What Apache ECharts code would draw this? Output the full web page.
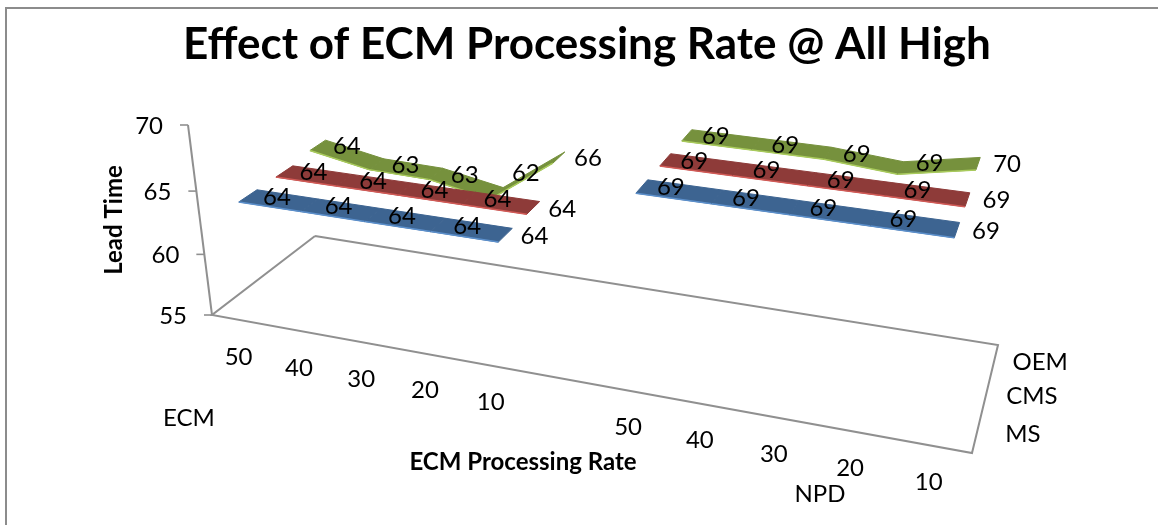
<!DOCTYPE html>
<html><head><meta charset="utf-8">
<style>html,body{margin:0;padding:0;background:#fff}#c{width:1158px;height:525px}</style>
<script src="https://cdn.jsdelivr.net/npm/echarts@6/dist/echarts.min.js"></script>
</head><body><div id="c"></div>
<script>
// ---- data ----
const categories = ['50','40','30','20','10','','50','40','30','20','10'];
const groupNames = ['ECM','NPD'];
const seriesNames = ['MS','CMS','OEM'];
const valuesMS  = [64,64,64,64,64,null,69,69,69,69,69];
const valuesCMS = [64,64,64,64,64,null,69,69,69,69,69];
const valuesOEM = [64.3,63.4,63.3,62.4,66,null,69,69,69,68.6,69.6];
const valueTicks = [55,60,65,70];

// ---- 3D view layout (not data) ----
const FLOOR = {fl:[212,315], fr:[972,453], br:[998,345], bl:[315,236]};
const TOP = [188,125];
const G3 = -0.0625;
const GRID = {left:212, top:125, width:622, height:190};
const RIBBON_HALF = 0.08;
const LABEL_OFF = [29,1];
const SECOND_GROUP_SHIFT = -0.007;   // the second group sits a little closer in the original view
const OEM_LABEL_LIFT = {3:-21, 9:-6}; // labels that float above a dip in the ribbon
const COLORS = [
 {top:'#3D6491', edge:'#5B8FCB'},
 {top:'#8E3B39', edge:'#D25A56'},
 {top:'#76913D', edge:'#A9CB5C'}
];
const FONT = 'Lato, "Open Sans", sans-serif';
const TXT = '24px '+FONT;

function homography(p00,p10,p11,p01){
  const [x0,y0]=p00,[x1,y1]=p10,[x2,y2]=p11,[x3,y3]=p01;
  const dx1=x1-x2,dx2=x3-x2,sx=x0-x1+x2-x3,dy1=y1-y2,dy2=y3-y2,sy=y0-y1+y2-y3;
  const den=dx1*dy2-dx2*dy1;
  const g=(sx*dy2-dx2*sy)/den,h=(dx1*sy-sx*dy1)/den;
  return {a:x1-x0+g*x1,b:x3-x0+h*x3,c:x0,d:y1-y0+g*y1,e:y3-y0+h*y3,f:y0,g,h};
}
const H = homography(FLOOR.fl,FLOOR.fr,FLOOR.br,FLOOR.bl);
const A3 = TOP[0]*(1+G3)-H.c, B3 = TOP[1]*(1+G3)-H.f;
function project(u,d,h){
  const w=H.g*u+H.h*d+G3*h+1;
  return [(H.a*u+H.b*d+A3*h+H.c)/w,(H.d*u+H.e*d+B3*h+H.f)/w];
}
// turn what the axes give into the unit box of the 3D view
function unit(api,cat,val){
  const p=api.coord([cat,val]);
  return [(p[0]-GRID.left)/GRID.width,(GRID.top+GRID.height-p[1])/GRID.height];
}
function markUnit(api,cat,val){
  const r=unit(api,cat,val);
  if(cat>5) r[0]+=SECOND_GROUP_SHIFT;
  return r;
}
const depthOf=k=>(k+0.5)/seriesNames.length;

function ribbonSeries(k,vals){
  const d=depthOf(k), data=[];
  vals.forEach((v,i)=>{ if(v!=null) data.push([i,v]); });
  return {
    type:'custom', name:seriesNames[k], coordinateSystem:'cartesian2d', z:2+(2-k), clip:false, silent:true,
    data, encode:{x:0,y:1},
    renderItem(params,api){
      const i=api.value(0), v=api.value(1), nx=vals[i+1];
      const c=[];
      if(nx!=null){
        const [u,h]=markUnit(api,i,v);
        const [u2,h2]=markUnit(api,i+1,nx);
        const df=d-RIBBON_HALF, db=d+RIBBON_HALF;
        const a=project(u,df,h),b=project(u2,df,h2),e=project(u2,db,h2),f=project(u,db,h);
        c.push({type:'polygon',shape:{points:[a,b,e,f]},style:{fill:COLORS[k].top,stroke:COLORS[k].top,lineWidth:1}});
        c.push({type:'line',shape:{x1:a[0],y1:a[1],x2:b[0],y2:b[1]},style:{stroke:COLORS[k].edge,lineWidth:1.5}});
      }
      return {type:'group',children:c};
    }
  };
}
function labelSeries(k,vals,lift){
  const d=depthOf(k), data=[];
  vals.forEach((v,i)=>{ if(v!=null) data.push([i,v]); });
  return {
    type:'custom', coordinateSystem:'cartesian2d', z:10, clip:false, silent:true, data, encode:{x:0,y:1},
    renderItem(params,api){
      const i=api.value(0), v=api.value(1);
      const [u,h]=markUnit(api,i,v);
      const p=project(u,d,h);
      return {type:'text',x:p[0]+LABEL_OFF[0],y:p[1]+LABEL_OFF[1]+((lift&&lift[i])||0),
        style:{text:String(Math.round(v)),fill:'#000',font:TXT,align:'center',verticalAlign:'middle'}};
    }
  };
}
const axisLine='#909090';
function frameItem(){
  return {
    type:'custom', coordinateSystem:'cartesian2d', z:1, clip:false, silent:true, data:[[0,55]], encode:{x:0,y:1},
    renderItem(params,api){
      const c=[];
      const floor=[project(0,1,0),project(0,0,0),project(1,0,0),project(1,1,0),project(0,1,0)];
      c.push({type:'polyline',shape:{points:floor},style:{stroke:axisLine,lineWidth:2,fill:null}});
      const hAt=v=>{const p=api.coord([0,v]);return (GRID.top+GRID.height-p[1])/GRID.height;};
      c.push({type:'line',shape:{x1:project(0,0,0)[0],y1:project(0,0,0)[1],x2:project(0,0,1)[0],y2:project(0,0,1)[1]},style:{stroke:axisLine,lineWidth:2}});
      valueTicks.forEach(t=>{
        const p=project(0,0,hAt(t));
        c.push({type:'line',shape:{x1:p[0]-8,y1:p[1],x2:p[0],y2:p[1]},style:{stroke:axisLine,lineWidth:1.6}});
        c.push({type:'text',x:p[0]-25,y:p[1]+1,style:{text:String(t),fill:'#000',font:TXT,align:'right',verticalAlign:'middle'}});
      });
      categories.forEach((t,i)=>{
        if(!t) return;
        const [u]=unit(api,i,55);
        const p=project(u,0,0);
        c.push({type:'text',x:p[0]-3,y:p[1]+36.5,style:{text:t,fill:'#000',font:TXT,align:'center',verticalAlign:'middle'}});
      });
      seriesNames.forEach((t,k)=>{
        const p=project(1,depthOf(k),0);
        c.push({type:'text',x:p[0]+46,y:p[1]+1,style:{text:t,fill:'#000',font:TXT,align:'center',verticalAlign:'middle'}});
      });
      c.push({type:'text',x:189,y:418,style:{text:groupNames[0],fill:'#000',font:TXT,align:'center',verticalAlign:'middle'}});
      c.push({type:'text',x:820,y:494,style:{text:groupNames[1],fill:'#000',font:TXT,align:'center',verticalAlign:'middle'}});
      return {type:'group',children:c};
    }
  };
}
const chart=echarts.init(document.getElementById('c'),null,{renderer:'canvas'});
chart.setOption({
  animation:false,
  backgroundColor:'#fff',
  title:{text:'Effect of ECM Processing Rate @ All High',left:582,textAlign:'center',top:18,
    textStyle:{fontFamily:FONT,fontSize:44,fontWeight:'bold',color:'#000'}},
  grid:{left:GRID.left,top:GRID.top,width:GRID.width,height:GRID.height},
  xAxis:{type:'category',data:categories,boundaryGap:true,
    axisLine:{show:false},axisTick:{show:false},axisLabel:{show:false},splitLine:{show:false},
    name:'ECM Processing Rate',nameLocation:'middle',nameGap:147,
    nameTextStyle:{fontFamily:FONT,fontSize:24,fontWeight:'bold',color:'#000',verticalAlign:'middle'}},
  yAxis:{type:'value',min:55,max:70,interval:5,
    axisLine:{show:false},axisTick:{show:false},axisLabel:{show:false},splitLine:{show:false},
    name:'Lead Time',nameLocation:'middle',nameGap:98,
    nameTextStyle:{fontFamily:FONT,fontSize:24,fontWeight:'bold',color:'#000',verticalAlign:'middle'}},
  graphic:[{type:'polyline',silent:true,shape:{points:[[6,525],[6,8],[1158,8]]},style:{stroke:'#8c8c8c',lineWidth:2,fill:null}}],
  series:[frameItem(),ribbonSeries(2,valuesOEM),ribbonSeries(1,valuesCMS),ribbonSeries(0,valuesMS),
    labelSeries(2,valuesOEM,OEM_LABEL_LIFT),labelSeries(1,valuesCMS),labelSeries(0,valuesMS)]
});
</script></body></html>
